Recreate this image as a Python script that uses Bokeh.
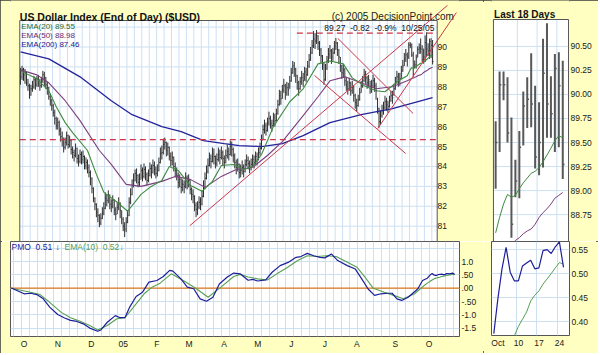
from bokeh.plotting import figure
from bokeh.layouts import row, column
from bokeh.models import ColumnDataSource, FixedTicker, Grid, Label, Span, Range1d
from bokeh.embed import file_html
from bokeh.resources import INLINE

# ---------------- data ----------------
month_ticks = [8, 29, 50, 70, 91, 111, 133, 154, 175, 196, 216, 240, 261]
month_labels = ["O", "N", "D", "05", "F", "M", "A", "M", "J", "J", "A", "S", "O"]

cl = [
    88.50, 88.85, 88.60, 88.70, 88.20, 88.05, 87.60, 87.90, 88.00, 88.35,
    88.10, 88.40, 88.30, 88.05, 88.35, 88.60, 88.45, 88.10, 87.95, 87.50,
    87.30, 87.05, 86.70, 86.40, 86.05, 86.20, 85.80, 85.50, 85.35, 84.95,
    85.20, 85.55, 85.10, 85.30, 84.85, 84.70, 84.55, 84.90, 84.40, 84.25,
    84.60, 84.35, 84.50, 84.05, 84.20, 83.95, 83.70, 83.40, 82.90, 82.40,
    82.10, 81.70, 81.55, 81.15, 81.40, 81.65, 81.90, 82.40, 82.30, 82.55,
    82.10, 82.00, 82.30, 81.80, 81.60, 81.95, 82.15, 81.80, 81.35, 81.00,
    80.85, 81.20, 81.55, 82.20, 82.60, 83.05, 83.30, 83.65, 83.55, 83.20,
    83.35, 83.80, 83.50, 83.85, 83.60, 83.30, 83.55, 83.90, 83.70, 84.05,
    83.85, 83.65, 83.80, 84.20, 84.65, 84.70, 85.10, 85.20, 84.80, 84.95,
    84.50, 84.30, 84.45, 84.00, 83.80, 83.55, 83.20, 83.35, 82.95, 83.10,
    83.00, 83.45, 83.20, 83.30, 82.85, 82.60, 82.50, 82.05, 81.85, 81.95,
    82.20, 82.10, 82.50, 82.95, 83.40, 83.75, 84.05, 84.40, 84.25, 84.65,
    84.50, 84.15, 84.35, 84.60, 84.45, 84.70, 84.40, 84.20, 84.55, 84.75,
    84.60, 85.00, 84.85, 84.55, 84.20, 83.95, 84.10, 83.70, 83.80, 83.95,
    83.75, 84.10, 84.30, 84.15, 83.95, 84.10, 84.35, 84.20, 84.50, 84.35,
    84.70, 84.90, 85.30, 85.85, 86.05, 85.80, 86.20, 86.40, 86.15, 86.05,
    86.45, 86.30, 86.65, 87.10, 87.55, 87.40, 87.85, 88.05, 87.70, 87.95,
    87.85, 88.30, 88.70, 89.05, 88.90, 88.55, 88.20, 87.90, 88.25, 88.45,
    88.30, 88.75, 88.60, 89.05, 89.35, 89.70, 90.05, 90.40, 90.30, 90.55,
    90.20, 89.85, 89.55, 89.15, 88.35, 88.90, 89.30, 89.65, 89.80, 89.50,
    89.70, 90.05, 90.20, 89.85, 89.50, 89.05, 88.70, 88.85, 88.30, 88.10,
    87.90, 88.20, 87.80, 88.00, 87.55, 87.20, 87.05, 87.35, 87.70, 88.05,
    88.30, 88.60, 88.45, 88.20, 88.35, 87.90, 88.05, 88.30, 88.05, 87.80,
    86.90, 86.25, 86.55, 86.80, 86.95, 87.25, 87.10, 87.00, 87.30, 87.55,
    87.45, 87.90, 88.20, 88.50, 88.25, 88.40, 88.80, 89.05, 89.40, 89.60,
    89.50, 90.10, 90.10, 89.60, 88.65, 89.10, 89.45, 89.88, 89.95, 89.90,
    89.35, 89.50, 90.22, 89.90, 89.80, 90.27, 90.09, 89.27]

hi = [
    88.95, 89.05, 88.95, 88.90, 88.75, 88.40, 88.15, 88.10, 88.30, 88.55,
    88.45, 88.55, 88.60, 88.40, 88.50, 88.80, 88.75, 88.50, 88.25, 88.00,
    87.65, 87.40, 87.15, 86.85, 86.50, 86.45, 86.30, 85.95, 85.75, 85.45,
    85.45, 85.75, 85.60, 85.55, 85.35, 85.00, 84.85, 85.15, 84.95, 84.60,
    84.85, 84.75, 84.80, 84.55, 84.45, 84.35, 84.10, 83.80, 83.45, 82.95,
    82.45, 82.15, 81.90, 81.60, 81.65, 81.95, 82.20, 82.70, 82.60, 82.80,
    82.60, 82.35, 82.55, 82.35, 81.95, 82.20, 82.45, 82.20, 81.80, 81.45,
    81.20, 81.45, 81.80, 82.45, 82.90, 83.35, 83.65, 83.85, 83.90, 83.60,
    83.65, 84.10, 83.95, 84.15, 84.00, 83.70, 83.85, 84.20, 84.10, 84.35,
    84.25, 84.00, 84.10, 84.45, 84.95, 85.05, 85.40, 85.45, 85.25, 85.20,
    85.00, 84.70, 84.75, 84.50, 84.20, 83.95, 83.70, 83.60, 83.40, 83.35,
    83.30, 83.70, 83.55, 83.60, 83.35, 82.95, 82.85, 82.55, 82.20, 82.25,
    82.50, 82.45, 82.80, 83.30, 83.70, 84.05, 84.40, 84.70, 84.60, 84.95,
    84.90, 84.55, 84.65, 84.95, 84.85, 85.00, 84.80, 84.55, 84.85, 85.10,
    84.95, 85.30, 85.25, 84.95, 84.65, 84.35, 84.40, 84.15, 84.10, 84.30,
    84.10, 84.35, 84.60, 84.50, 84.30, 84.40, 84.60, 84.55, 84.75, 84.70,
    84.95, 85.20, 85.60, 86.10, 86.35, 86.20, 86.45, 86.75, 86.55, 86.35,
    86.70, 86.65, 86.90, 87.35, 87.85, 87.80, 88.10, 88.40, 88.15, 88.25,
    88.20, 88.55, 88.95, 89.30, 89.25, 88.95, 88.60, 88.30, 88.50, 88.80,
    88.70, 89.00, 88.95, 89.30, 89.65, 90.00, 90.35, 90.80, 90.70, 90.85,
    90.60, 90.30, 89.95, 89.60, 89.20, 89.15, 89.55, 89.95, 90.10, 89.90,
    89.95, 90.30, 90.45, 90.25, 89.90, 89.50, 89.10, 89.15, 88.95, 88.50,
    88.30, 88.45, 88.25, 88.30, 88.05, 87.65, 87.40, 87.60, 87.95, 88.30,
    88.55, 88.90, 88.80, 88.55, 88.60, 88.30, 88.35, 88.60, 88.45, 88.20,
    87.45, 86.95, 86.80, 87.10, 87.25, 87.55, 87.45, 87.30, 87.55, 87.80,
    87.80, 88.15, 88.50, 88.80, 88.70, 88.70, 89.05, 89.35, 89.70, 89.90,
    89.72, 90.24, 90.24, 90.18, 89.76, 89.32, 89.62, 90.03, 90.18, 90.43,
    90.09, 89.92, 90.58, 90.74, 90.19, 90.42, 90.44, 90.35]

lo = [
    88.10, 88.35, 88.30, 88.15, 88.05, 87.80, 87.40, 87.55, 87.75, 87.90,
    87.85, 88.00, 88.00, 87.80, 87.95, 88.20, 88.05, 87.90, 87.60, 87.35,
    87.05, 86.80, 86.50, 86.10, 85.85, 85.85, 85.55, 85.25, 85.00, 84.70,
    84.85, 85.05, 84.90, 84.95, 84.60, 84.40, 84.25, 84.45, 84.15, 84.00,
    84.15, 84.10, 84.15, 83.85, 83.85, 83.65, 83.45, 83.05, 82.65, 82.20,
    81.80, 81.45, 81.20, 80.95, 81.05, 81.35, 81.55, 81.85, 82.00, 82.15,
    81.85, 81.70, 81.90, 81.55, 81.30, 81.60, 81.80, 81.40, 81.10, 80.75,
    80.45, 80.70, 81.15, 81.50, 82.10, 82.55, 82.95, 83.25, 83.15, 82.95,
    83.00, 83.35, 83.25, 83.40, 83.30, 83.05, 83.20, 83.50, 83.40, 83.65,
    83.55, 83.40, 83.50, 83.75, 84.15, 84.35, 84.60, 84.85, 84.50, 84.55,
    84.30, 84.00, 84.05, 83.75, 83.45, 83.30, 82.90, 82.95, 82.65, 82.75,
    82.65, 82.90, 82.85, 82.95, 82.60, 82.30, 82.15, 81.75, 81.45, 81.55,
    81.85, 81.80, 82.05, 82.45, 82.85, 83.35, 83.65, 84.00, 83.90, 84.20,
    84.10, 83.90, 84.00, 84.25, 84.10, 84.35, 84.05, 83.90, 84.15, 84.40,
    84.30, 84.55, 84.50, 84.20, 83.90, 83.60, 83.75, 83.40, 83.45, 83.60,
    83.45, 83.70, 84.00, 83.85, 83.65, 83.80, 84.00, 83.90, 84.10, 84.05,
    84.30, 84.55, 84.85, 85.35, 85.65, 85.55, 85.75, 86.05, 85.90, 85.75,
    86.00, 86.00, 86.25, 86.60, 87.05, 87.10, 87.40, 87.70, 87.35, 87.55,
    87.55, 87.90, 88.25, 88.65, 88.50, 88.20, 87.85, 87.55, 87.85, 88.10,
    88.00, 88.30, 88.25, 88.55, 88.95, 89.30, 89.65, 89.95, 89.90, 90.15,
    89.85, 89.55, 89.20, 88.85, 88.10, 88.30, 88.85, 89.20, 89.40, 89.15,
    89.30, 89.65, 89.85, 89.55, 89.15, 88.75, 88.40, 88.45, 88.05, 87.80,
    87.60, 87.80, 87.55, 87.65, 87.25, 86.90, 86.75, 87.00, 87.30, 87.70,
    87.95, 88.25, 88.15, 87.90, 88.00, 87.65, 87.70, 87.95, 87.75, 87.35,
    86.65, 85.95, 86.10, 86.45, 86.60, 86.85, 86.80, 86.70, 86.95, 87.25,
    87.15, 87.55, 87.85, 88.15, 88.00, 88.05, 88.40, 88.75, 89.05, 89.25,
    89.02, 89.40, 89.94, 89.50, 88.51, 88.93, 88.92, 89.47, 89.65, 89.66,
    89.23, 89.16, 89.24, 89.55, 89.55, 89.40, 89.45, 89.12]

ema20_x = [0, 11, 19, 24, 30, 35, 45, 51, 56, 65, 72, 81, 87, 95, 100, 106, 114,
           122, 129, 135, 143, 150, 156, 162, 170, 181, 190, 200, 208, 217, 223,
           231, 239, 245, 254]
ema20_y = [88.80, 88.40, 87.80, 87.00, 86.20, 85.70, 84.80, 83.60, 82.70, 82.20,
           81.75, 82.60, 82.95, 83.30, 84.00, 83.80, 83.05, 82.75, 83.25, 84.05,
           84.10, 83.85, 84.00, 84.60, 86.00, 87.25, 87.90, 89.15, 89.30, 89.15,
           88.45, 88.05, 87.80, 87.75, 88.30]
ema50_x = [0, 11, 19, 30, 40, 53, 61, 71, 81, 95, 104, 114, 124, 135, 145, 156,
           166, 176, 190, 200, 208, 218, 229, 239, 250]
ema50_y = [88.85, 88.60, 88.20, 87.30, 86.30, 84.80, 84.10, 83.10, 83.00, 83.25,
           83.50, 83.35, 82.95, 83.50, 83.85, 83.95, 84.55, 85.25, 86.55, 87.50,
           88.30, 88.50, 88.20, 87.90, 88.00]
ema200_x = [0, 19, 40, 61, 75, 95, 108, 123, 137, 147, 162, 176, 190, 208, 229, 250, 277]
ema200_y = [89.75, 89.40, 88.50, 87.30, 86.60, 86.00, 85.75, 85.30, 85.15, 85.05,
            85.00, 85.15, 85.55, 86.20, 86.60, 86.90, 87.46]

# last 18 days (Sep 30 .. Oct 25, 2005)
rp_ema20 = [88.56, 88.72, 88.86, 88.96, 88.93, 88.95, 89.02, 89.08, 89.13, 89.18,
            89.20, 89.24, 89.30, 89.37, 89.44, 89.52, 89.57, 89.55]
rp_ema50 = [88.30, 88.34, 88.38, 88.42, 88.44, 88.48, 88.51, 88.55, 88.58, 88.60,
            88.65, 88.72, 88.77, 88.81, 88.86, 88.92, 88.95, 88.98]
rp_ticks = [261, 266, 271, 276]
rp_labels = ["Oct", "10", "17", "24"]

pmo_x = [0, 8, 12, 16, 20, 24, 29, 33, 37, 41, 45, 49, 54, 56, 60, 65, 68, 71, 74, 78,
         82, 86, 91, 95, 99, 101, 106, 110, 114, 118, 122, 126, 130, 135, 139, 143,
         148, 151, 154, 159, 163, 168, 173, 178, 181, 185, 189, 193, 196, 200, 204,
         210, 215, 219, 223, 227, 231, 235, 238, 241, 244, 248, 254, 257,
         260, 261, 262, 263, 264, 265, 266, 267, 268, 269, 270, 271, 272, 273, 274,
         275, 276, 277]
pmo_y = [0.01, -0.21, -0.19, -0.24, -0.40, -0.71, -0.99, -1.11, -1.21, -1.25,
         -1.34, -1.50, -1.62, -1.57, -1.28, -1.03, -1.11, -1.11, -0.71, -0.31,
         -0.15, 0.23, 0.29, 0.44, 0.67, 0.64, 0.35, 0.04, -0.02, -0.40,
         -0.49, -0.34, 0.16, 0.42, 0.57, 0.54, 0.30, 0.33, 0.27, 0.31,
         0.60, 0.85, 0.97, 1.16, 1.19, 1.31, 1.22, 1.16, 1.14, 1.29,
         1.04, 0.85, 0.72, 0.35, -0.03, -0.27, -0.21, -0.19, -0.19, -0.40,
         -0.46, -0.34, -0.03, 0.29,
         0.375, 0.448, 0.51, 0.555, 0.503, 0.485, 0.485, 0.516, 0.522, 0.528,
         0.51, 0.512, 0.548, 0.55, 0.542, 0.556, 0.566, 0.513]
pmoe_x = [0, 12, 18, 24, 31, 37, 43, 49, 54, 60, 66, 71, 76, 83, 88, 93, 100, 108,
          115, 123, 131, 139, 143, 148, 154, 160, 166, 172, 179, 185, 191, 197, 203,
          210, 216, 221, 226, 233, 239, 245, 252, 258,
          260, 261, 262, 263, 264, 265, 266, 267, 268, 269, 270, 271, 272, 273, 274,
          275, 276, 277]
pmoe_y = [0.00, -0.15, -0.24, -0.53, -0.90, -1.11, -1.24, -1.40, -1.57, -1.40,
          -1.15, -1.11, -0.74, -0.21, 0.04, 0.19, 0.54, 0.27, 0.01, -0.34,
          0.04, 0.44, 0.52, 0.42, 0.35, 0.31, 0.54, 0.76, 1.04, 1.22,
          1.19, 1.22, 1.19, 0.98, 0.79, 0.42, 0.01, -0.15, -0.27, -0.40,
          -0.21, 0.10,
          0.19, 0.23, 0.27, 0.31, 0.345, 0.37, 0.39, 0.405, 0.42, 0.443,
          0.455, 0.464, 0.478, 0.489, 0.50, 0.512, 0.523, 0.52]

# trend lines (bar index, price)
trend_x0 = [113.9, 240.1, 197.6, 213.3]
trend_y0 = [81.03, 85.90, 88.57, 90.43]
trend_x1 = [287.0, 293.0, 258.9, 263.9]
trend_y1 = [92.09, 91.73, 84.65, 86.66]
resist_level, resist_start = 90.70, 185.75
support_level = 85.35

title_text = "US Dollar Index (End of Day) ($USD)"
copy_text = "(c) 2005 DecisionPoint.com"
last_text = "89.27\u00a0\u00a0-0.82\u00a0\u00a0-0.9%\u00a0\u00a010/25/05"
ema_texts = ["EMA(20) 89.55", "EMA(50) 88.98", "EMA(200) 87.46"]
pmo_text, pmoe_text = "PMO\u00a0\u00a00.51", "EMA(10)\u00a0\u00a00.52"

# ---------------- styling ----------------
YELLOW = "#FFFFC2"
GRIDC = "#CCE0F2"
FRAME = "#555555"
FONT = "Liberation Sans"
BAR = "#2e2e2e"
C20, C50, C200 = "#3f8a3f", "#7d3f7d", "#23239a"
T20, T50, T200 = "#2a6a2a", "#6a2a6a", "#20208a"
RED = "#cc3646"
PMOC, PMOEC = "#1e1e9a", "#55a055"
ORANGE = "#e07a1c"
LBL = "8.5px"

# plot areas (data extents of the white boxes)
MX = (-0.5, 280.1)
MY = (80.23, 91.33)
PY = (-1.816, 1.756)
RX = (259.44, 278.46)
RY = (88.47, 90.78)
RPY = (0.371, 0.567)

# pixel scales
PXI = 449.0 / (MX[1] - MX[0])     # px per bar (main)
PYU = 221.0 / (MY[1] - MY[0])     # px per price unit (main)
RXI = 78.0 / (RX[1] - RX[0])      # px per bar (right)
RYU = 222.0 / (RY[1] - RY[0])     # px per price unit (right)


def style_axis(ax, standoff):
    ax.axis_line_color = None
    ax.major_tick_line_color = None
    ax.minor_tick_line_color = None
    ax.major_tick_out = 0
    ax.major_tick_in = 0
    ax.minor_tick_out = 0
    ax.minor_tick_in = 0
    ax.major_label_text_font = FONT
    ax.major_label_text_font_size = LBL
    ax.major_label_text_color = "#1a1a1a"
    ax.major_label_standoff = standoff


def make_fig(w, h, xr, yr, mbl, mbr, mbt, mbb, xaxis, standoff=2):
    p = figure(width=w, height=h, x_range=Range1d(*xr), y_range=Range1d(*yr),
               output_backend="svg", toolbar_location=None,
               x_axis_location="below" if xaxis else None, y_axis_location="right",
               min_border_left=mbl, min_border_right=mbr,
               min_border_top=mbt, min_border_bottom=mbb)
    p.center = [c for c in p.center if not isinstance(c, Grid)]
    p.border_fill_color = YELLOW
    p.background_fill_color = "white"
    p.outline_line_color = FRAME
    p.outline_line_width = 1
    for ax in p.yaxis:
        style_axis(ax, standoff)
    if xaxis:
        for ax in p.xaxis:
            style_axis(ax, 2)
    return p


def add_grid(p, dim, ticks):
    p.add_layout(Grid(dimension=dim, ticker=FixedTicker(ticks=ticks),
                      grid_line_color=GRIDC, grid_line_width=1))


def box_grid(p, xr, yr, xticks, yticks):
    """white plot box with its grid, drawn as glyphs inside a larger frame"""
    p.quad(left=[xr[0]], right=[xr[1]], bottom=[yr[0]], top=[yr[1]],
           fill_color="white", line_color=None)
    p.segment(x0=xticks, y0=[yr[0]] * len(xticks), x1=xticks, y1=[yr[1]] * len(xticks),
              line_color=GRIDC, line_width=1)
    p.segment(x0=[xr[0]] * len(yticks), y0=yticks, x1=[xr[1]] * len(yticks), y1=yticks,
              line_color=GRIDC, line_width=1)


def box_outline(p, xr, yr):
    p.quad(left=[xr[0]], right=[xr[1]], bottom=[yr[0]], top=[yr[1]],
           fill_color=None, line_color=FRAME, line_width=1)


weekly = [1.5 + 5 * k for k in range(56)]
bar_x = list(range(len(cl)))
src = ColumnDataSource(dict(x=bar_x, hi=hi, lo=lo, cl=cl,
                            xr=[v + 0.6 for v in bar_x]))

# ---------------- main price panel (frame covers the whole figure) ----------------
PM_W, PM_H = 483, 241
pm_xr = (MX[0] - 10 / PXI, MX[0] + (PM_W - 10) / PXI)
pm_yr = (MY[0], MY[1] + 20 / PYU)
pm = make_fig(PM_W, PM_H, pm_xr, pm_yr, 0, 0, 0, 0, False, standoff=-(PM_W - 461))
pm.background_fill_color = YELLOW
pm.outline_line_color = None
price_ticks = list(range(81, 91))
pm.yaxis.ticker = FixedTicker(ticks=price_ticks)
box_grid(pm, MX, MY, weekly, list(range(81, 92)))

pm.segment(x0="x", y0="lo", x1="x", y1="hi", source=src, line_color=BAR, line_width=1)
pm.segment(x0="x", y0="cl", x1="xr", y1="cl", source=src, line_color=BAR, line_width=1)
pm.line(ema200_x, ema200_y, line_color=C200, line_width=1.3)
pm.line(ema50_x + bar_x[-18:], ema50_y + rp_ema50, line_color=C50, line_width=1.1)
pm.line(ema20_x + bar_x[-18:], ema20_y + rp_ema20, line_color=C20, line_width=1.1)
pm.line([MX[0], MX[1]], [support_level, support_level], line_color=RED,
        line_width=1.3, line_dash="6 4")
pm.line([resist_start, MX[1]], [resist_level, resist_level], line_color=RED,
        line_width=1.3, line_dash="6 4")
box_outline(pm, MX, MY)
pm.segment(x0=trend_x0, y0=trend_y0, x1=trend_x1, y1=trend_y1, line_color=RED, line_width=1)


def mx(rx):
    return MX[0] + (rx - 10) / PXI


def my(ry):
    return MY[1] - (ry - 20) / PYU


pm.add_layout(Label(x=mx(10), y=my(16), text=title_text, text_font=FONT,
                    text_font_size="10.5px", text_font_style="bold",
                    text_color="#111111", text_baseline="middle", text_align="left"))
pm.add_layout(Label(x=mx(477), y=my(16), text=copy_text, text_font=FONT,
                    text_font_size="10px", text_color="#222222",
                    text_baseline="middle", text_align="right"))
pm.add_layout(Label(x=mx(456), y=my(27), text=last_text, text_font=FONT,
                    text_font_size="8.5px", text_color="#111111",
                    text_baseline="middle", text_align="right"))
for t, c, ry in zip(ema_texts, [T20, T50, T200], [26, 35, 44]):
    pm.add_layout(Label(x=mx(11.5), y=my(ry), text=t, text_font=FONT,
                        text_font_size="8px", text_color=c,
                        text_baseline="middle", text_align="left"))

# ---------------- PMO panel ----------------
pp = make_fig(483, 112, MX, PY, 10, 24, 0, 17, True)
add_grid(pp, 0, weekly)
pmo_ticks = [-1.5, -1.0, -0.5, 0.0, 0.5, 1.0, 1.5]
add_grid(pp, 1, pmo_ticks)
pp.add_layout(Span(location=0, dimension="width", line_color=ORANGE, line_width=1.2,
                   level="underlay"))
pp.yaxis.ticker = FixedTicker(ticks=pmo_ticks)
pp.yaxis.major_label_overrides = {-1.5: "-1.5", -1.0: "-1.0", -0.5: "-.50", 0.0: ".00",
                                  0.5: ".50", 1.0: "1.0", 1.5: ""}
pp.xaxis.ticker = FixedTicker(ticks=month_ticks)
pp.xaxis.major_label_overrides = {t: s for t, s in zip(month_ticks, month_labels)}
pp.line(pmoe_x, pmoe_y, line_color=PMOEC, line_width=1.1)
pp.line(pmo_x, pmo_y, line_color=PMOC, line_width=1.2)

ppx = (PY[1] - PY[0]) / 95.0


def py(ry):
    return PY[1] - (ry - 241) * ppx


for t, c, rx in [(pmo_text, PMOC, 11), ("\u2193", PMOC, 55),
                 (pmoe_text, PMOEC, 64), ("\u2193", PMOEC, 119)]:
    pp.add_layout(Label(x=mx(rx), y=py(246.5), text=t, text_font=FONT,
                        text_font_size="8.5px", text_color=c,
                        text_baseline="middle", text_align="left"))

# ---------------- right panel: last 18 days ----------------
rsrc = ColumnDataSource(dict(x=bar_x[-18:], hi=hi[-18:], lo=lo[-18:], cl=cl[-18:],
                             xr=[v + 0.45 for v in bar_x[-18:]]))
rp_xr = (RX[0] - 2 / RXI, RX[1] + 1 / RXI)
rp_yr = (RY[0], RY[1] + 19 / RYU)
rp = make_fig(115, 241, rp_xr, rp_yr, 6, 28, 0, 0, False, standoff=1)
rp.background_fill_color = YELLOW
rp.outline_line_color = None
r_ticks = [88.75, 89.0, 89.25, 89.5, 89.75, 90.0, 90.25, 90.5]
box_grid(rp, RX, RY, [265.5, 270.5, 275.5], r_ticks)
rp.yaxis.ticker = FixedTicker(ticks=r_ticks)
rp.yaxis.major_label_overrides = {v: "%.2f" % v for v in r_ticks}
rp.segment(x0="x", y0="lo", x1="x", y1="hi", source=rsrc, line_color="#585858", line_width=2)
rp.segment(x0="x", y0="cl", x1="xr", y1="cl", source=rsrc, line_color="#585858", line_width=1.5)
rp.line(bar_x[-18:], rp_ema50, line_color=C50, line_width=1)
rp.line(bar_x[-18:], rp_ema20, line_color=C20, line_width=1)
box_outline(rp, RX, RY)
rp.add_layout(Label(x=RX[0] + 0.7 / RXI, y=RY[1] + 5.3 / RYU, text="Last 18 Days",
                    text_font=FONT, text_font_size="10px", text_font_style="bold",
                    text_color="#111111", text_baseline="middle", text_align="left"))

rq = make_fig(115, 112, RX, RPY, 8, 29, 0, 18, True)
add_grid(rq, 0, [265.5, 270.5, 275.5])
q_ticks = [0.40, 0.45, 0.50, 0.55]
add_grid(rq, 1, q_ticks)
rq.yaxis.ticker = FixedTicker(ticks=q_ticks)
rq.yaxis.major_label_overrides = {v: "%.2f" % v for v in q_ticks}
rq.xaxis.ticker = FixedTicker(ticks=rp_ticks)
rq.xaxis.major_label_overrides = {t: s for t, s in zip(rp_ticks, rp_labels)}
rq.line(pmoe_x[-18:], pmoe_y[-18:], line_color=PMOEC, line_width=1)
rq.line(pmo_x[-18:], pmo_y[-18:], line_color=PMOC, line_width=1.2)

layout = row(column(pm, pp), column(rp, rq),
             styles={"outline": "2px solid #3a3a3a", "outline-offset": "-2px"})
open("out.html", "w").write(file_html(layout, INLINE))
